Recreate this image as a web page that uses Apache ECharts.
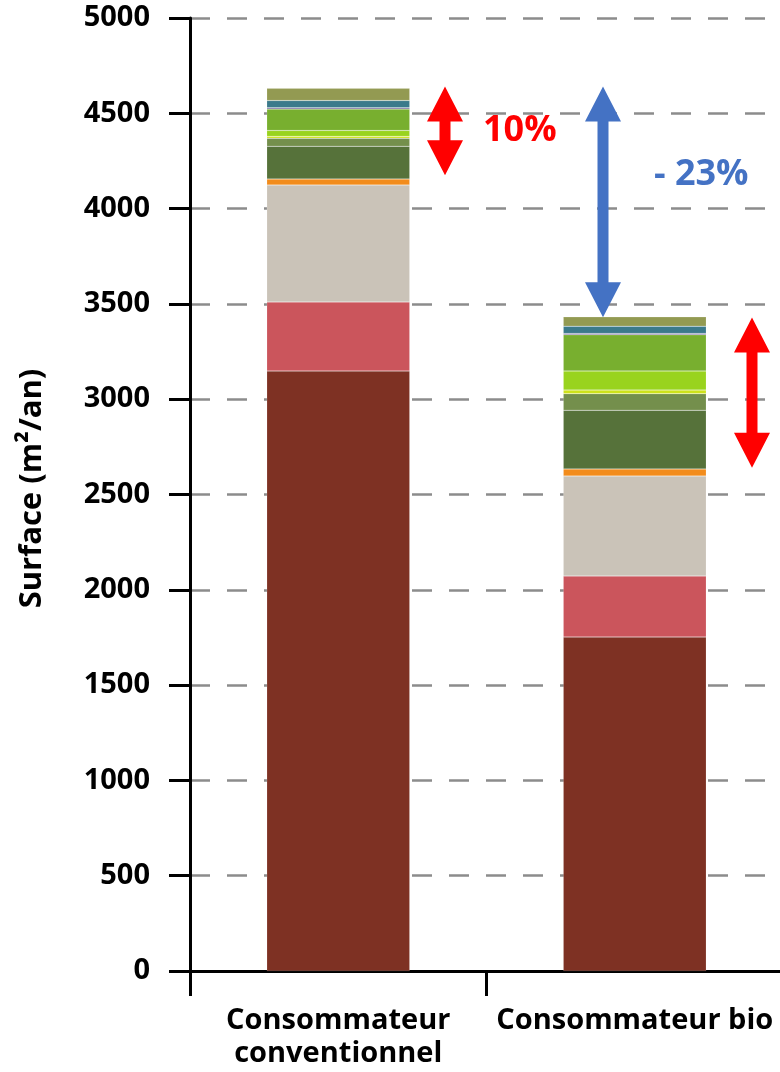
<!DOCTYPE html>
<html>
<head>
<meta charset="utf-8">
<script src="https://cdn.jsdelivr.net/npm/echarts@6/dist/echarts.min.js"></script>
<style>
  html, body { margin: 0; padding: 0; background: #fff; }
  #chart { width: 780px; height: 1072px; }
</style>
</head>
<body>
<div id="chart"></div>
<script>
const categories = ['Consommateur\nconventionnel', 'Consommateur bio']

// segments from bottom to top
const segNames = ['s1', 's2', 's3', 's4', 's5', 's6', 's7', 's8', 's9', 's10', 's11', 's12']
const segColors = ['#7E3123', '#CB555C', '#CAC3B8', '#F28C1C', '#56723A', '#748F4C',
                   '#CEE21A', '#99D31E', '#78AF2F', '#5F4B8B', '#3B7A8B', '#939A52']
const conventionnel = [3148, 362, 614, 31, 172, 42, 10, 31, 112, 7, 38, 64]
const bio = [1752, 320, 525, 37, 308, 87, 19, 100, 190, 7, 38, 49]

const yTicks = [0, 5000, 500]

// annotation arrows: [x pixel, value top, value bottom, color]
const arrows = [
  [445, 4640, 4175, '#FF0000'],
  [603, 4640, 3430, '#4472C4'],
  [752, 3428, 2640, '#FF0000']
]

const font = '"Open Sans", "DejaVu Sans", sans-serif'

const chart = echarts.init(document.getElementById('chart'))

const option = {
  animation: false,
  backgroundColor: '#fff',
  grid: { left: 190, top: 18, bottom: 101, right: -3, outerBoundsMode: 'none', containLabel: false },
  xAxis: {
    type: 'category',
    data: categories,
    axisLine: { lineStyle: { color: '#000', width: 3 } },
    axisTick: { show: true, interval: 0, length: 25, lineStyle: { color: '#000', width: 3 } },
    axisLabel: {
      interval: 0,
      hideOverlap: false,
      showMaxLabel: true,
      color: '#000',
      fontFamily: font,
      fontWeight: 'bold',
      fontSize: 29,
      lineHeight: 33,
      margin: 33
    }
  },
  yAxis: {
    type: 'value',
    min: yTicks[0],
    max: yTicks[1],
    interval: yTicks[2],
    name: 'Surface (m²/an)',
    nameLocation: 'middle',
    nameRotate: 90,
    nameGap: 142,
    nameTextStyle: {
      color: '#000', fontFamily: font, fontWeight: 'bold', fontSize: 31,
      padding: [0, 0, 0, 12]
    },
    axisLine: { show: true, lineStyle: { color: '#000', width: 3 } },
    axisTick: { show: true, length: 21, lineStyle: { color: '#000', width: 3 } },
    axisLabel: {
      color: '#000',
      fontFamily: font,
      fontWeight: 'bold',
      fontSize: 29,
      margin: 40,
      formatter: v => String(v)
    },
    splitLine: {
      lineStyle: { color: '#8C8C8C', width: 2.5, type: [20, 17] }
    }
  },
  series: segNames.map((name, i) => ({
    name: name,
    type: 'bar',
    stack: 'total',
    barWidth: 143,
    data: [conventionnel[i], bio[i]],
    itemStyle: {
      color: segColors[i],
      borderColor: 'rgba(255,255,255,0.3)',
      borderWidth: 0.5
    }
  }))
}

chart.setOption(option)

function arrowPoints(cx, y1, y2) {
  const hw = 18, hl = 35, sw = 5.5
  return [
    [cx, y1], [cx + hw, y1 + hl], [cx + sw, y1 + hl], [cx + sw, y2 - hl],
    [cx + hw, y2 - hl], [cx, y2], [cx - hw, y2 - hl], [cx - sw, y2 - hl],
    [cx - sw, y1 + hl], [cx - hw, y1 + hl]
  ]
}

const graphics = arrows.map(a => {
  const y1 = chart.convertToPixel({ yAxisIndex: 0 }, a[1])
  const y2 = chart.convertToPixel({ yAxisIndex: 0 }, a[2])
  return {
    type: 'polygon',
    shape: { points: arrowPoints(a[0], y1, y2) },
    style: { fill: a[3] },
    z: 100
  }
})

graphics.push({
  type: 'text',
  left: 483,
  top: 113,
  style: { text: '10%', fill: '#FF0000', font: 'bold 36px ' + font },
  z: 100
})
graphics.push({
  type: 'text',
  left: 654,
  top: 157,
  style: { text: '- 23%', fill: '#4472C4', font: 'bold 36px ' + font },
  z: 100
})

chart.setOption({ graphic: graphics })
</script>
</body>
</html>
